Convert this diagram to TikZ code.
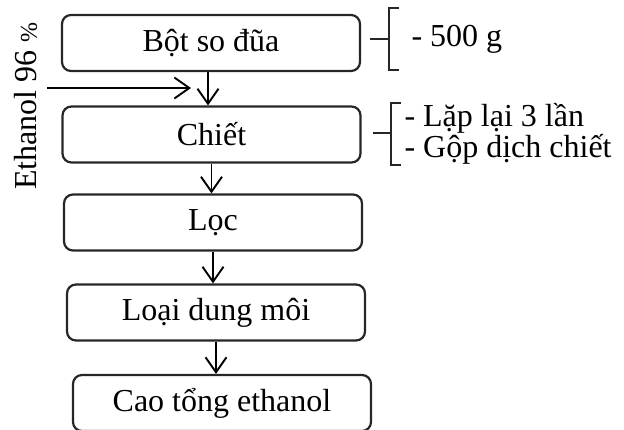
\documentclass[tikz,border=0pt]{standalone}
\usepackage{fontspec}
\setmainfont{Liberation Serif}
\usetikzlibrary{arrows.meta,calc}

\begin{document}
\begin{tikzpicture}[x=1pt,y=-1pt,
	box/.style={draw=black!85,line width=2.2pt,rounded corners=9pt,minimum width=298pt,minimum height=56pt,inner sep=0pt},
	arr/.style={line width=1.9pt,-{Straight Barb[length=15pt,width=21pt,line width=1.9pt]}},
	brk/.style={line width=1.9pt,black!85},
	font=\fontsize{32}{31}\selectfont]
	\useasboundingbox (0,0) rectangle (624,429);
	
	\node[box] (bot) at (211,43) {Bột so đũa};
	\node[box] (chiet) at (211.5,134.5) {Chiết};
	\node[box] (loc) at (213,222.5) {Lọc};
	\node[box] (loai) at (216,312.5) {Loại dung môi};
	\node[box] (cao) at (222,403) {Cao tổng ethanol};
	
	\draw[arr] ([xshift=-3pt]bot.south) -- ([xshift=-3pt]bot.south |- chiet.north);
	\foreach \a/\b in {chiet/loc,
		loc/loai,
		loai/cao%
	}
	{
		\draw[arr] (\a.south) -- (\a.south |- \b.north);
	};
	
	% dong ethanol vao
	\coordinate (ethin) at (47,88);
	\coordinate (ethout) at (191,88);
	\draw[arr] (ethin) -- (ethout);
	\node[rotate=90] (ethl) at (26,106) {Ethanol 96 {\fontsize{24}{24}\selectfont\%}};
	
	% ghi chu
	\node[anchor=west] (g1) at (408,39) {- 500 g};
	\node[anchor=west,align=left] (g2) at (401,134) {- Lặp lại 3 lần\\- Gộp dịch chiết};
	\draw[brk] (370,39)--(389,39);
	\draw[brk] (399,8)--(389,8)--(389,70)--(399,70);
	\draw[brk] (373,133)--(391,133);
	\draw[brk] (401,103)--(391,103)--(391,165)--(401,165);
	
\end{tikzpicture}
\end{document}
